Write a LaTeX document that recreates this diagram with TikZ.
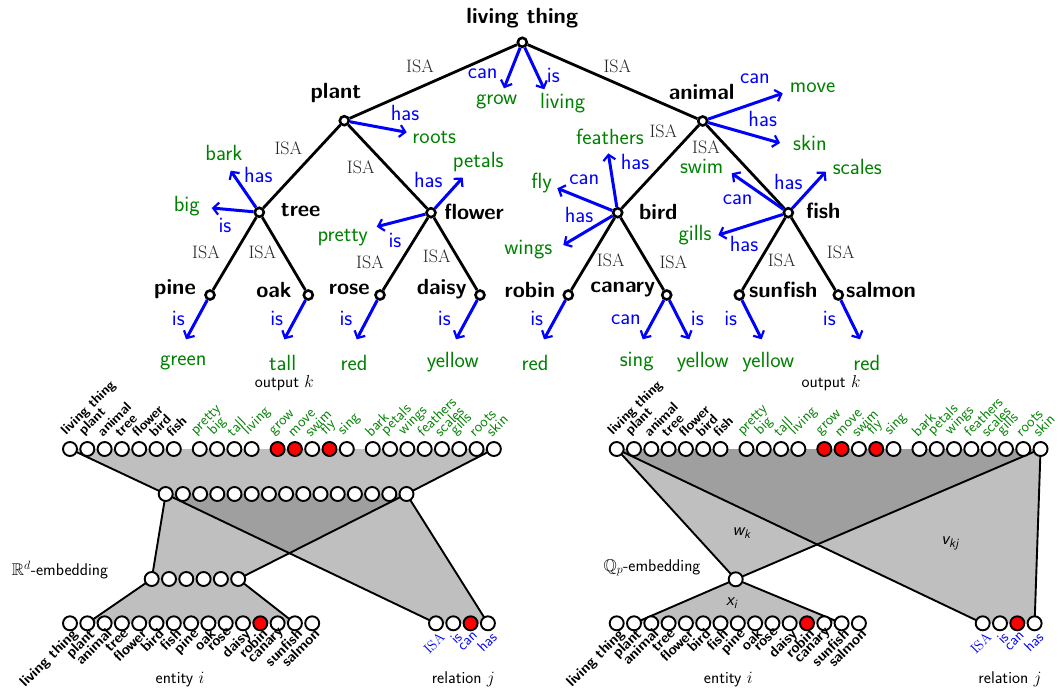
\documentclass[tikz,border=0pt]{standalone}
\usepackage{amssymb}
\usetikzlibrary{arrows.meta,backgrounds}
\definecolor{dgreen}{RGB}{0,128,0}
\renewcommand{\familydefault}{\sfdefault}
\newcommand\tlf{\fontsize{22}{26}\selectfont}
\newcommand\isaf{\fontsize{18}{21}\selectfont\rmfamily}
\newcommand\smf{\fontsize{15}{18}\selectfont}
\newcommand\sbf{\fontsize{13.8}{16}\selectfont\bfseries}
\newcommand\ebf{\fontsize{14.7}{17}\selectfont\bfseries}
\newcommand\mdf{\fontsize{17}{20}\selectfont}
\tikzset{
 tnode/.style={circle,draw,line width=2.6pt,fill=white,inner sep=0pt,minimum size=9pt},
 tlab/.style={font=\tlf\bfseries,inner sep=0pt},
 glab/.style={font=\tlf,text=dgreen,inner sep=0pt},
 blab/.style={font=\tlf,text=blue,inner sep=0pt},
 isalab/.style={font=\isaf,text=black!85,inner sep=0pt},
 tedge/.style={line width=2.8pt},
 rarrow/.style={draw=blue,line width=3pt,-{Straight Barb[length=5.5pt,width=12pt,line width=2.2pt]}},
 nnode/.style={circle,draw,line width=1.9pt,fill=white,inner sep=0pt,minimum size=14pt},
 nred/.style={fill=red},
 nw/.style={fill=white},
 oE/.style={font=\sbf,rotate=45,anchor=south west,inner sep=0pt},
 oA/.style={font=\smf,text=dgreen,rotate=45,anchor=south west,inner sep=0pt},
 eE/.style={font=\ebf,rotate=45,anchor=north east,inner sep=0pt},
 rS/.style={font=\smf,text=blue,rotate=45,anchor=north east,inner sep=0pt},
 rR/.style={font=\fontsize{14}{16}\selectfont\rmfamily,text=blue,rotate=45,anchor=north east,inner sep=0pt},
 wire/.style={line width=1.9pt},
 band/.style={fill=gray,fill opacity=0.5},
 mlab/.style={font=\mdf,inner sep=0pt},
 wlab/.style={font=\fontsize{18}{21}\selectfont\slshape,inner sep=0pt},
}
\begin{document}
\begin{tikzpicture}[x=1pt,y=-1pt]
\useasboundingbox (0,0) rectangle (1058,689);
% ---------- tree ----------
\node[tnode] (Tlt) at (522.3,42.3) {};
\node[tnode] (Tplant) at (344.3,120.7) {};
\node[tnode] (Tanimal) at (702.7,121) {};
\node[tnode] (Ttree) at (259.3,212.3) {};
\node[tnode] (Tflower) at (431,212.7) {};
\node[tnode] (Tbird) at (617.7,212.7) {};
\node[tnode] (Tfish) at (788.3,212.7) {};
\node[tnode] (Tpine) at (210,295) {};
\node[tnode] (Toak) at (308.3,295) {};
\node[tnode] (Trose) at (380,295) {};
\node[tnode] (Tdaisy) at (480,295) {};
\node[tnode] (Trobin) at (568.3,295) {};
\node[tnode] (Tcanary) at (666.7,295) {};
\node[tnode] (Tsunfish) at (739.3,295) {};
\node[tnode] (Tsalmon) at (838.3,295) {};
\node[tlab] (Llt) at (522.3,18.3) {living thing};
\node[tlab] (Lplant) at (336,93.3) {plant};
\node[tlab] (Lanimal) at (701.7,92.3) {animal};
\node[tlab] (Ltree) at (300.7,210.5) {tree};
\node[tlab] (Lflower) at (474,211.5) {flower};
\node[tlab] (Lbird) at (658.3,211.5) {bird};
\node[tlab] (Lfish) at (823.3,210.5) {fish};
\node[tlab] (Lpine) at (175,289) {pine};
\node[tlab] (Loak) at (274,290) {oak};
\node[tlab] (Lrose) at (349.3,289) {rose};
\node[tlab] (Ldaisy) at (441.7,289) {daisy};
\node[tlab] (Lrobin) at (530,290) {robin};
\node[tlab] (Lcanary) at (622.7,289.5) {canary};
\node[tlab] (Lsunfish) at (783.3,290) {sunfish};
\node[tlab] (Lsalmon) at (881,290) {salmon};
\draw[tedge] (Tlt) -- (Tplant);
\draw[tedge] (Tlt) -- (Tanimal);
\draw[tedge] (Tplant) -- (Ttree);
\draw[tedge] (Tplant) -- (Tflower);
\draw[tedge] (Tanimal) -- (Tbird);
\draw[tedge] (Tanimal) -- (Tfish);
\draw[tedge] (Ttree) -- (Tpine);
\draw[tedge] (Ttree) -- (Toak);
\draw[tedge] (Tflower) -- (Trose);
\draw[tedge] (Tflower) -- (Tdaisy);
\draw[tedge] (Tbird) -- (Trobin);
\draw[tedge] (Tbird) -- (Tcanary);
\draw[tedge] (Tfish) -- (Tsunfish);
\draw[tedge] (Tfish) -- (Tsalmon);
\node[isalab] (I1) at (420,66.7) {ISA};
\node[isalab] (I2) at (617.3,66.7) {ISA};
\node[isalab] (I3) at (288.3,148.3) {ISA};
\node[isalab] (I4) at (360.7,167.7) {ISA};
\node[isalab] (I5) at (663.3,131) {ISA};
\node[isalab] (I6) at (706,147.7) {ISA};
\node[isalab] (I7) at (206,252.7) {ISA};
\node[isalab] (I8) at (262.3,252.7) {ISA};
\node[isalab] (I9) at (370,262.7) {ISA};
\node[isalab] (I10) at (436.7,256.7) {ISA};
\node[isalab] (I11) at (610.7,260) {ISA};
\node[isalab] (I12) at (673.3,262.7) {ISA};
\node[isalab] (I13) at (781.7,260) {ISA};
\node[isalab] (I14) at (840.7,252.7) {ISA};
% relation arrows
\foreach \src/\ex/\ey/\rl/\rx/\ry/\tg/\gx/\gy [count=\n] in {
 Tlt/504/88.3/can/482.7/74/grow/496.7/101.7,
 Tlt/544.3/89.3/is/553.3/75/living/562.7/103.3,
 Tplant/406.7/132.3/has/405/113.3/roots/434.3/137.3,
 Tanimal/782.7/93.3/can/755/78.3/move/812.7/87.7,
 Tanimal/780/143/has/762.7/119.3/skin/810/142.7,
 Ttree/230.7/170.7/has/258.3/175/bark/224/152.7,
 Ttree/211.7/208/is/225/225/big/186.7/206,
 Tflower/462.7/177.7/has/428.3/180/petals/478.3/161.7,
 Tflower/376.7/226.7/is/395/240/pretty/342.7/237.7,
 Tbird/608.3/153.3/has/635/161.7/feathers/610/136.7,
 Tbird/557.3/188.3/can/584.3/179.3/fly/541.7/182.7,
 Tbird/563.3/245/has/579/215/wings/528.3/250,
 Tfish/825.7/171.7/has/788.3/181.7/scales/857.3/166.7,
 Tfish/731.7/173.3/can/737.7/200/swim/701.7/166.7,
 Tfish/718.3/235/has/744/244.3/gills/695/235,
 Tpine/186/339.3/is/178.3/318.3/green/183.3/362.7,
 Toak/284.3/339.3/is/276.7/318.3/tall/282.7/362.7,
 Trose/356.7/339.3/is/346/318.3/red/354/363.3,
 Tdaisy/456/339.3/is/444.3/318.3/yellow/452.7/361.7,
 Trobin/544/339.3/is/536.7/318.3/red/535/363.3,
 Tcanary/642.7/339.3/can/626/320/sing/636.7/361.7,
 Tcanary/689.3/339.3/is/697.3/318.3/yellow/702.7/361.7,
 Tsunfish/761.7/339.3/is/730.7/318.3/yellow/768.3/361.7,
 Tsalmon/860/339.3/is/829.3/318.3/red/866.7/363.3}{
 \coordinate (A\n) at (\ex,\ey);
 \draw[rarrow] (\src) -- (A\n);
 \node[blab] (B\n) at (\rx,\ry) {\rl};
 \node[glab] (G\n) at (\gx,\gy) {\tg};
}
\node[mlab] (ok1) at (284.4,382.7) {output $k$};
\node[mlab] (ok2) at (831,382.7) {output $k$};
% ---------- networks ----------
\foreach \ox/\p in {70/L,616.7/R}{
 \foreach \t/\k/\st/\f [count=\i from 0] in {living thing/0/oE/nw, plant/1/oE/nw, animal/2/oE/nw, tree/3/oE/nw, flower/4/oE/nw, bird/5/oE/nw, fish/6/oE/nw, pretty/7.5/oA/nw, big/8.5/oA/nw, tall/9.5/oA/nw, living/10.5/oA/nw, grow/12/oA/nred, move/13/oA/nred, swim/14/oA/nw, fly/15/oA/nred, sing/16/oA/nw, bark/17.5/oA/nw, petals/18.5/oA/nw, wings/19.5/oA/nw, feathers/20.5/oA/nw, scales/21.5/oA/nw, gills/22.5/oA/nw, roots/23.5/oA/nw, skin/24.5/oA/nw}{
  \node[nnode,\f] (\p O\i) at (\ox+17.3*\k,449) {};
  \node[\st] (\p OL\i) at (\ox+17.3*\k-1.5,437.5) {\t};
 }
 \foreach \t/\f [count=\i from 0] in {living thing/nw, plant/nw, animal/nw, tree/nw, flower/nw, bird/nw, fish/nw, pine/nw, oak/nw, rose/nw, daisy/nw, robin/nred, canary/nw, sunfish/nw, salmon/nw}{
  \node[nnode,\f] (\p E\i) at (\ox+17.3*\i,623.3) {};
  \node[eE] (\p EL\i) at (\ox+17.3*\i+1,627.3) {\t};
 }
 \foreach \t/\f/\st [count=\i from 0] in {ISA/nw/rR, is/nw/rS, can/nred/rS, has/nw/rS}{
  \node[nnode,\f] (\p R\i) at (\ox+366+17.3*\i,623.3) {};
  \node[\st] (\p RL\i) at (\ox+366+17.3*\i+2.5,631) {\t};
 }
}
\foreach \i in {0,...,14}{\node[nnode] (LH\i) at (165.7+17.2*\i,494) {};}
\foreach \i in {0,...,5}{\node[nnode] (LM\i) at (151.7+17.3*\i,579) {};}
\node[nnode] (RQ) at (735.7,579.3) {};
\begin{scope}[on background layer]
 \fill[band] (LO0.center) -- (LO23.center) -- (LH14.center) -- (LH0.center) -- cycle;
 \fill[band] (LH0.center) -- (LH14.center) -- (LM5.center) -- (LM0.center) -- cycle;
 \fill[band] (LH0.center) -- (LH14.center) -- (LR3.center) -- (LR0.center) -- cycle;
 \fill[band] (LM0.center) -- (LM5.center) -- (LE13.center) -- (LE1.center) -- cycle;
 \fill[band] (RO0.center) -- (RO23.center) -- (RQ.center) -- cycle;
 \fill[band] (RO0.center) -- (RO23.center) -- (RR3.center) -- (RR0.center) -- cycle;
 \fill[band] (RQ.center) -- (RE13.center) -- (RE1.center) -- cycle;
 \draw[wire] (LO0.center) -- (LH0.center);
 \draw[wire] (LO23.center) -- (LH14.center);
 \draw[wire] (LH0.center) -- (LM0.center);
 \draw[wire] (LH14.center) -- (LM5.center);
 \draw[wire] (LH0.center) -- (LR0.center);
 \draw[wire] (LH14.center) -- (LR3.center);
 \draw[wire] (LM0.center) -- (LE1.center);
 \draw[wire] (LM5.center) -- (LE13.center);
 \draw[wire] (RO0.center) -- (RQ.center);
 \draw[wire] (RO23.center) -- (RQ.center);
 \draw[wire] (RO0.center) -- (RR0.center);
 \draw[wire] (RO23.center) -- (RR3.center);
 \draw[wire] (RQ.center) -- (RE1.center);
 \draw[wire] (RQ.center) -- (RE13.center);
\end{scope}
\node[mlab] (Rdl) at (60,570) {$\mathbb{R}^d$-embedding};
\node[mlab] (Qpl) at (652,567.7) {$\mathbb{Q}_p$-embedding};
\node[wlab] (wk) at (741.7,533.3) {w\textsubscript{k}};
\node[wlab] (vkj) at (950,543.3) {v\textsubscript{kj}};
\node[wlab] (xi) at (731.7,603.3) {x\textsubscript{i}};
\node[mlab] (ei1) at (180,680) {entity $i$};
\node[mlab] (rj1) at (463.3,679.3) {relation $j$};
\node[mlab] (ei2) at (728.3,680) {entity $i$};
\node[mlab] (rj2) at (1010,679.3) {relation $j$};
\end{tikzpicture}
\end{document}
